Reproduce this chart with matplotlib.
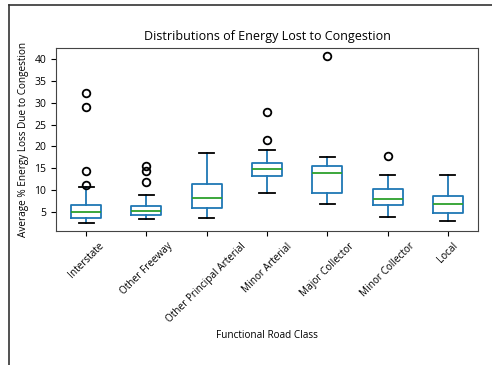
import matplotlib
matplotlib.use('Agg')
import matplotlib.pyplot as plt
from matplotlib.lines import Line2D

plt.rcParams['font.family'] = ['Open Sans', 'DejaVu Sans']

# road classes and box statistics
classes = ['Interstate', 'Other Freeway', 'Other Principal Arterial', 'Minor Arterial',
           'Major Collector', 'Minor Collector', 'Local']
whislo = [2.55, 3.3, 3.6, 9.25, 6.8, 3.85, 3.0]
q1 = [3.7, 4.3, 5.9, 13.2, 9.25, 6.6, 4.7]
med = [5.0, 5.2, 8.2, 14.75, 14.0, 8.05, 6.8]
q3 = [6.7, 6.4, 11.4, 16.2, 15.6, 10.3, 8.6]
whishi = [10.8, 8.8, 18.6, 19.25, 17.65, 13.45, 13.45]
fliers = [[32.1, 29.0, 14.45, 11.2],
          [15.4, 14.3, 11.8],
          [],
          [27.9, 21.5],
          [40.6],
          [17.8],
          []]

stats = []
for i in range(len(classes)):
    stats.append(dict(label=classes[i], whislo=whislo[i], q1=q1[i], med=med[i],
                      q3=q3[i], whishi=whishi[i], fliers=fliers[i]))

fig = plt.figure(figsize=(4.92, 3.65), dpi=100)
ax = fig.add_axes([56 / 492, 1 - 231 / 365, 422 / 492, 183 / 365])

lw = 1.3
ax.bxp(stats, widths=0.5,
       boxprops=dict(color='C0', lw=lw), whiskerprops=dict(color='C0', lw=lw),
       medianprops=dict(color='C2', lw=lw), capprops=dict(color='k', lw=lw),
       flierprops=dict(marker='o', markerfacecolor='none', markeredgecolor='k',
                       markersize=5.5, markeredgewidth=1.3))

ax.set_title('Distributions of Energy Lost to Congestion', fontsize=9)
ax.set_xlabel('Functional Road Class', fontsize=7.2)
ax.set_ylabel('Average % Energy Loss Due to Congestion', fontsize=7.2)
ax.set_xticklabels(classes, rotation=45, fontsize=7.2, ha='center')
ax.tick_params(axis='y', labelsize=7.5)
ax.set_yticks([5, 10, 15, 20, 25, 30, 35, 40])
for s in ax.spines.values():
    s.set_color('#444444')

# screenshot border
fig.add_artist(Line2D([9 / 492, 9 / 492], [0, 1 - 5 / 365], transform=fig.transFigure, color='#333333', lw=1.2))
fig.add_artist(Line2D([9 / 492, 1], [1 - 5 / 365, 1 - 5 / 365], transform=fig.transFigure, color='#333333', lw=1.2))

plt.savefig('out.png', dpi=100)
